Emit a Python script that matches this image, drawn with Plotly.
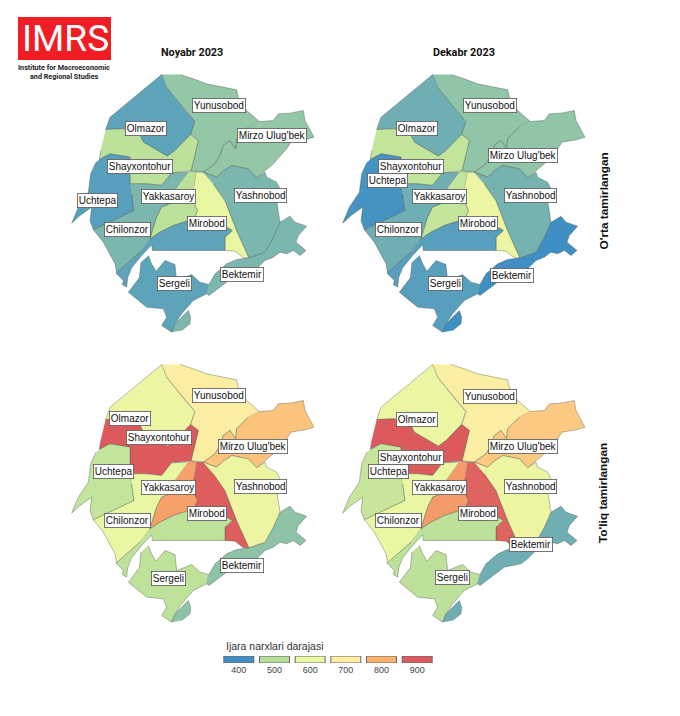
import plotly.graph_objects as go
from plotly.colors import sample_colorscale

WIDTH = 680
HEIGHT = 716

# ijara narxlari, panel by panel
districts = ['Olmazor', 'Yunusobod', "Mirzo Ulug'bek", 'Shayxontohur', 'Uchtepa', 'Chilonzor',
             'Yakkasaroy', 'Mirobod', 'Sergeli', 'Bektemir', 'Yashnobod']
noyabr_orta = [425, 470, 470, 510, 420, 450, 510, 600, 425, 450, 450]
dekabr_orta = [440, 468, 468, 520, 405, 440, 520, 610, 420, 400, 445]
noyabr_toliq = [620, 690, 770, 900, 520, 600, 820, 895, 515, 465, 620]
dekabr_toliq = [610, 680, 760, 900, 530, 600, 825, 890, 510, 440, 620]

legend_ticks = ['400', '500', '600', '700', '800', '900']
legend_steps = [1, 1, 1, 1, 1, 1]
scale_values = [400, 500, 600, 700, 800, 900]
scale_colors = ['#3f8fc5', '#b8df99', '#e9f6a2', '#fdeca2', '#fcb16d', '#dc5a5c']

# district outlines (x, y)
olmazor = [(305, 42), (150, 170), (137, 207), (190, 205), (240, 225), (250, 245), (322, 287), (345, 270),
           (392, 222), (405, 183), (380, 155), (340, 105), (320, 80)]
yunusobod = [(305, 42), (320, 80), (340, 105), (380, 155), (405, 183), (392, 222), (415, 240), (393, 331),
             (430, 335), (465, 310), (480, 285), (490, 255), (510, 240), (527, 265), (530, 235), (565, 200),
             (598, 183), (560, 150), (535, 110), (530, 88), (440, 70), (400, 55), (360, 42)]
mirzo = [(598, 183), (640, 180), (655, 160), (690, 158), (730, 150), (735, 180), (762, 230), (735, 238),
         (693, 245), (680, 265), (640, 310), (590, 352), (565, 325), (515, 315), (490, 332), (470, 350),
         (430, 335), (465, 310), (480, 285), (490, 255), (510, 240), (527, 265), (530, 235), (565, 200)]
shayxontohur = [(137, 207), (190, 205), (240, 225), (250, 245), (322, 287), (345, 270), (392, 222), (415, 240),
                (393, 331), (335, 337), (305, 375), (260, 370), (210, 370), (210, 290), (150, 280), (118, 297),
                (122, 270)]
uchtepa = [(118, 297), (150, 280), (210, 290), (210, 370), (215, 400), (222, 450), (150, 485), (100, 508),
           (90, 480), (95, 440), (60, 465), (35, 488), (55, 440), (85, 395), (92, 340), (108, 305)]
chilonzor = [(210, 370), (260, 370), (305, 375), (335, 337), (385, 335), (345, 390), (335, 428), (305, 440),
             (290, 470), (270, 535), (240, 575), (170, 638), (165, 610), (130, 545), (100, 508), (150, 485),
             (222, 450), (215, 400)]
yakkasaroy = [(385, 335), (393, 331), (410, 335), (402, 385), (403, 430), (413, 450), (402, 475), (340, 495),
              (300, 515), (270, 535), (290, 470), (305, 440), (335, 428), (345, 390)]
mirobod = [(410, 335), (430, 335), (460, 370), (495, 420), (530, 510), (567, 592), (550, 592), (525, 572),
           (495, 570), (495, 530), (517, 510), (500, 500), (440, 490), (402, 475), (413, 450), (403, 430),
           (402, 385)]
sergeli = [(265, 585), (275, 610), (288, 632), (315, 600), (345, 612), (350, 660), (395, 642), (420, 665),
           (447, 672), (440, 700), (400, 720), (365, 760), (345, 790), (335, 815), (305, 795), (320, 770),
           (310, 745), (260, 740), (205, 695), (238, 652), (243, 605), None,
           (270, 535), (300, 515), (340, 495), (402, 475), (440, 490), (500, 500), (517, 510), (495, 530),
           (495, 570), (277, 570), (275, 553), (245, 585), (215, 622), (203, 652), (200, 680), (187, 672),
           (190, 660), (168, 638), (240, 575)]
bektemir = [(447, 672), (465, 640), (500, 610), (530, 597), (567, 592), (615, 575), (640, 530), (660, 485),
            (690, 467), (705, 485), (740, 497), (715, 525), (708, 545), (738, 570), (720, 585), (700, 570),
            (680, 580), (660, 575), (640, 590), (615, 600), (590, 625), (570, 640), (520, 650), (480, 680),
            (447, 705), (440, 700), None,
            (335, 815), (345, 790), (385, 750), (392, 770), (390, 790), (365, 810)]
yashnobod = [(430, 335), (470, 350), (490, 332), (515, 315), (565, 325), (590, 352), (615, 335), (620, 350),
             (650, 365), (660, 385), (650, 420), (660, 485), (640, 530), (615, 575), (567, 592), (530, 510),
             (495, 420), (460, 370)]
outlines = [olmazor, yunusobod, mirzo, shayxontohur, uchtepa, chilonzor, yakkasaroy, mirobod, sergeli, bektemir,
            yashnobod]

# panel label spots, same order as districts
labels_tl = [(257, 205), (478, 135), (635, 224), (240, 319), (113, 421), (203, 508), (325, 408), (442, 488),
             (343, 669), (545, 642), (600, 405)]
labels_tr = [(257, 205), (477, 134), (575, 286), (239, 319), (170, 359), (202, 508), (324, 408), (440, 488),
             (343, 669), (543, 644), (597, 405)]
labels_bl = [(210, 203), (478, 136), (578, 287), (297, 260), (160, 362), (203, 511), (325, 410), (442, 490),
             (325, 685), (545, 645), (600, 407)]
labels_br = [(257, 208), (477, 137), (575, 288), (239, 321), (172, 362), (202, 511), (324, 410), (440, 490),
             (365, 682), (600, 583), (597, 407)]

colorscale = [[(v - 400) / 500, c] for v, c in zip(scale_values, scale_colors)]


def price_color(value):
    return sample_colorscale(colorscale, (value - 400) / 500)[0]


def px_x(px):
    return px / WIDTH


def px_y(px):
    return 1 - px / HEIGHT


# left, top of each map in page pixels
panels = [
    (noyabr_orta, labels_tl, 60, 60.5),
    (dekabr_orta, labels_tr, 331, 60.5),
    (noyabr_toliq, labels_bl, 60, 350.5),
    (dekabr_toliq, labels_br, 331, 350.5),
]

fig = go.Figure()
annotations = []
layout_axes = {}

for i, (values, labels, left, top) in enumerate(panels):
    n = i + 1
    suffix = '' if n == 1 else str(n)
    for name, outline, value in zip(districts, outlines, values):
        xs = [p[0] if p else None for p in outline]
        ys = [p[1] if p else None for p in outline]
        fig.add_trace(go.Scatter(x=xs, y=ys, xaxis='x' + suffix, yaxis='y' + suffix, mode='lines', fill='toself',
                                 fillcolor=price_color(value), line=dict(color='rgba(70,85,75,0.55)', width=0.7),
                                 name=name, text=str(value), hoverinfo='name+text', showlegend=False))
    layout_axes['xaxis' + suffix] = dict(domain=[px_x(left), px_x(left + 270)], range=[0, 810], visible=False,
                                         anchor='y' + suffix)
    layout_axes['yaxis' + suffix] = dict(domain=[px_y(top + 280), px_y(top)], range=[840, 0], visible=False,
                                         anchor='x' + suffix)
    for name, (lx, ly) in zip(districts, labels):
        annotations.append(dict(x=lx, y=ly, xref='x' + suffix, yref='y' + suffix, text=name, showarrow=False,
                                font=dict(family='Liberation Sans', size=10, color='#111'), bgcolor='white',
                                bordercolor='#555', borderwidth=0.8, borderpad=1))

# legend as a small bar axis
fig.add_trace(go.Bar(x=legend_ticks, y=legend_steps, xaxis='x5', yaxis='y5', width=0.84,
                     marker=dict(color=[price_color(int(t)) for t in legend_ticks],
                                 line=dict(color='#666', width=1)),
                     hoverinfo='x', showlegend=False))
layout_axes['xaxis5'] = dict(domain=[px_x(221), px_x(435)], type='category', range=[-0.5, 5.5], anchor='y5',
                             showgrid=False, showline=False, ticks='', zeroline=False,
                             tickfont=dict(family='Liberation Sans', size=9, color='#444'))
layout_axes['yaxis5'] = dict(domain=[px_y(663), px_y(656)], range=[0, 1], visible=False, anchor='x5')


def page_text(text, x, y, size, color='#111', family='Roboto', angle=0, anchor='center'):
    annotations.append(dict(x=px_x(x), y=px_y(y), xref='paper', yref='paper', text=text, showarrow=False,
                            textangle=angle, xanchor=anchor, yanchor='middle',
                            font=dict(family=family, size=size, color=color)))


page_text('<b>Noyabr 2023</b>', 192, 53, 10.8)
page_text('<b>Dekabr 2023</b>', 464, 53, 10.8)
page_text("<b>O'rta tamirlangan</b>", 603, 201.5, 11.8, family='Liberation Sans', angle=-90)
page_text("<b>To'liq tamirlangan</b>", 603, 493, 11.8, family='Liberation Sans', angle=-90)
page_text('Ijara narxlari darajasi', 224, 646, 10.5, color='#333', family='Liberation Sans', anchor='left')
page_text('IMRS', 65, 38, 37, color='white')
page_text('<b>Institute for Macroeconomic</b>', 64, 68, 7.2, color='#222')
page_text('<b>and Regional Studies</b>', 64, 76, 7.2, color='#222')

logo = dict(type='rect', xref='paper', yref='paper', x0=px_x(18), x1=px_x(111), y0=px_y(60), y1=px_y(17),
            fillcolor='#f01d24', line=dict(width=0), layer='below')

fig.update_layout(width=WIDTH, height=HEIGHT, margin=dict(l=0, r=0, t=0, b=0), plot_bgcolor='white',
                  paper_bgcolor='white', annotations=annotations, shapes=[logo], **layout_axes)

fig.write_html('out.html', config={'displayModeBar': False}, post_script="document.body.style.margin='0';")
